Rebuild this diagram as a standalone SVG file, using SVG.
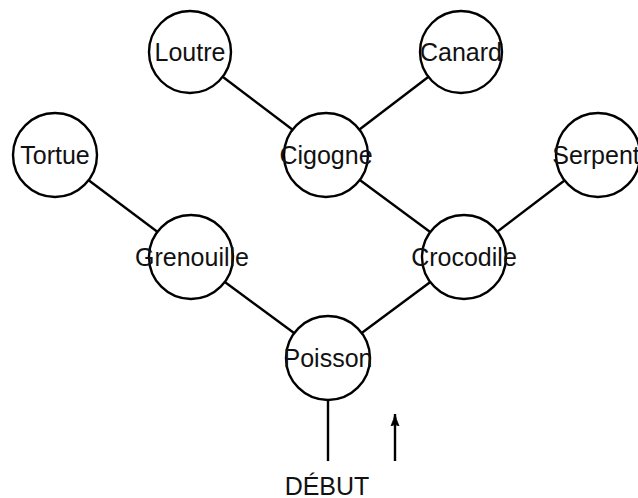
<svg xmlns="http://www.w3.org/2000/svg" width="638" height="498" viewBox="0 0 638 498">
<style>
.n circle{fill:#fff;stroke:#000;stroke-width:2.4}
text{font-family:"Liberation Sans",Arial,sans-serif;font-size:25px;text-anchor:middle;fill:#111}
.e line{stroke:#000;stroke-width:2.4}
</style>
<defs>
<marker id="ah" markerWidth="14" markerHeight="10" refX="12" refY="5" orient="auto" markerUnits="userSpaceOnUse">
<path d="M0,1 Q7,4 12,5 Q7,6 0,9 Q3,5 0,1 Z" fill="#000" stroke="#000" stroke-width="0.8"/>
</marker>
</defs>
<g id="connectors" class="e">
<line x1="328" y1="358" x2="191" y2="257"/>
<line x1="328" y1="358" x2="464" y2="257"/>
<line x1="191" y1="257" x2="55" y2="155"/>
<line x1="464" y1="257" x2="326" y2="155"/>
<line x1="464" y1="257" x2="598" y2="155"/>
<line x1="326" y1="155" x2="190" y2="52"/>
<line x1="326" y1="155" x2="461" y2="52"/>
<line x1="328" y1="400" x2="328" y2="461"/>
<line x1="395" y1="461" x2="395" y2="414" marker-end="url(#ah)"/>
</g>
<g id="loutre" class="n"><circle cx="190" cy="52" r="41"/><text x="190" y="61">Loutre</text></g>
<g id="canard" class="n"><circle cx="461" cy="52" r="41"/><text x="461" y="61">Canard</text></g>
<g id="tortue" class="n"><circle cx="55" cy="155" r="42"/><text x="55" y="164">Tortue</text></g>
<g id="cigogne" class="n"><circle cx="326" cy="155" r="42"/><text x="326" y="164">Cigogne</text></g>
<g id="serpent" class="n"><circle cx="598" cy="155" r="42"/><text x="596" y="164">Serpent</text></g>
<g id="grenouille" class="n"><circle cx="191" cy="257" r="42"/><text x="192" y="266">Grenouille</text></g>
<g id="crocodile" class="n"><circle cx="464" cy="257" r="42"/><text x="464" y="266">Crocodile</text></g>
<g id="poisson" class="n"><circle cx="328" cy="358" r="42"/><text x="328" y="367">Poisson</text></g>
<text id="debut" x="327" y="495">DÉBUT</text>
</svg>
